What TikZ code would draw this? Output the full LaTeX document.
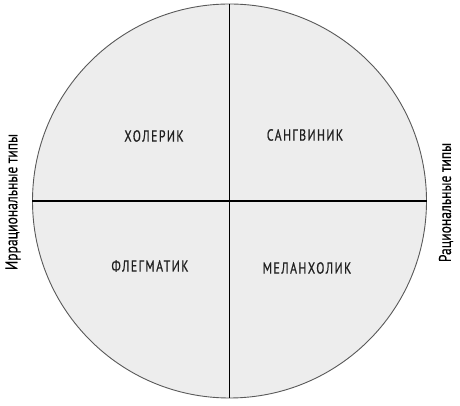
\documentclass[tikz,border=0pt]{standalone}
\usepackage{fontspec}
\newfontfamily\quadfont[FakeStretch=0.74,LetterSpace=9,FakeBold=0.6]{PT Sans}
\newfontfamily\sidefont[FakeStretch=0.8,FakeBold=0.3]{PT Sans}
\begin{document}
\begin{tikzpicture}[x=1pt,y=1pt,
  quad/.style={font=\quadfont\fontsize{16}{18}\selectfont, text=black!88, inner sep=0pt},
  side/.style={font=\sidefont\fontsize{17}{19}\selectfont, text=black, inner sep=0pt, rotate=90},
  axis/.style={line width=1.8pt, black}]
\useasboundingbox (0,0) rectangle (460,406);
\coordinate (c) at (229.5,205);
\node[circle, draw=black!65, line width=0.9pt, fill=black!7, minimum size=394pt, inner sep=0pt] (circ) at (c) {};
\draw[axis] (circ.north) -- (circ.south);
\draw[axis] (circ.west) -- (circ.east);
\node[quad] (chol) at (154,270) {ХОЛЕРИК};
\node[quad] (sang) at (305,271) {САНГВИНИК};
\node[quad] (flegm) at (150,140) {ФЛЕГМАТИК};
\node[quad] (mel) at (307,138) {МЕЛАНХОЛИК};
\node[side] (irr) at (13,204) {Иррациональные типы};
\node[side] (rat) at (446,203.5) {Рациональные типы};
\end{tikzpicture}
\end{document}
